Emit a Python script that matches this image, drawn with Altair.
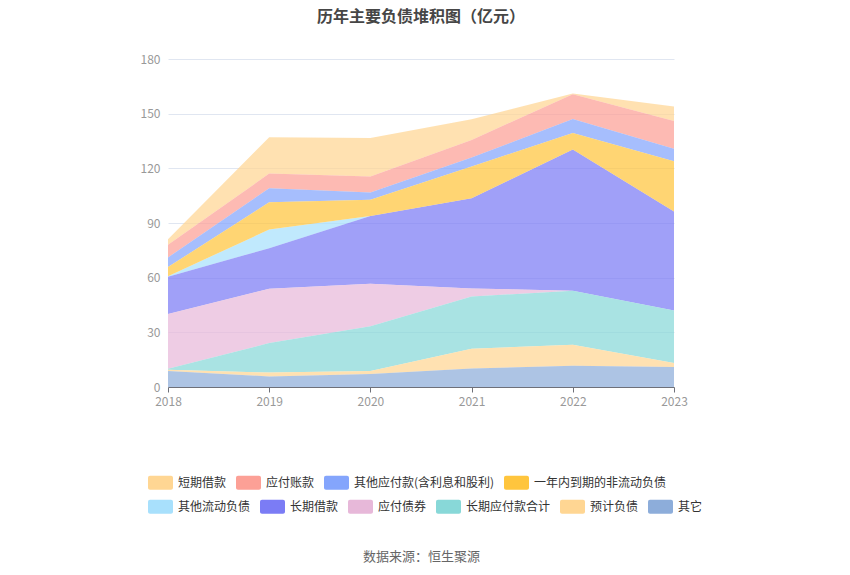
import altair as alt
import pandas as pd

years = ["2018", "2019", "2020", "2021", "2022", "2023"]

# series in legend order
names = ["短期借款", "应付账款", "其他应付款(含利息和股利)", "一年内到期的非流动负债",
         "其他流动负债", "长期借款", "应付债券", "长期应付款合计", "预计负债", "其它"]
colors = ["#FFD693", "#FCA096", "#84A5FC", "#FFC53D",
          "#A8E0FC", "#7B7CF5", "#E7B8D9", "#88D8D8", "#FFD693", "#8DADDA"]

short_loans = [3.1, 20.0, 21.2, 11.3, 0.4, 7.9]
accounts_payable = [6.9, 8.0, 8.8, 9.7, 13.5, 15.3]
other_payables = [5.3, 7.7, 4.0, 4.9, 7.7, 6.8]
current_noncurrent = [5.0, 15.0, 8.9, 17.4, 9.1, 27.6]
other_current = [0.3, 10.2, 0.0, 0.0, 0.0, 0.0]
long_loans = [20.5, 22.3, 37.1, 49.5, 77.5, 54.3]
bonds = [30.0, 29.8, 23.3, 4.4, 0.0, 0.0]
long_payables = [0.5, 16.2, 24.6, 28.7, 29.6, 28.8]
provisions = [0.7, 2.1, 1.7, 10.9, 11.5, 2.2]
others = [8.8, 5.8, 7.1, 10.1, 11.7, 11.0]

series = [short_loans, accounts_payable, other_payables, current_noncurrent,
          other_current, long_loans, bonds, long_payables, provisions, others]

rows = []
for i, (n, vals) in enumerate(zip(names, series)):
    for y, v in zip(years, vals):
        rows.append({"year": y, "series": n, "value": v, "order": len(names) - i})
df = pd.DataFrame(rows)

FONT = "Noto Sans CJK SC"
rect_path = ("M-0.84,-0.56 H0.84 A0.16,0.16 0 0 1 1,-0.4 V0.4 A0.16,0.16 0 0 1 0.84,0.56 "
             "H-0.84 A0.16,0.16 0 0 1 -1,0.4 V-0.4 A0.16,0.16 0 0 1 -0.84,-0.56 Z")

base = alt.Chart(df).transform_stack(
    stack="value", groupby=["year"], as_=["y0", "y1"], sort=[alt.SortField("order", "ascending")]
)

x_enc = alt.X("year:O", scale=alt.Scale(type="point", padding=0),
              axis=alt.Axis(title="数据来源：恒生聚源", titlePadding=143, titleFontSize=13,
                            titleColor="#666666", titleFontWeight="normal", titleFont=FONT,
                            labelAngle=0, labelColor="#999999", labelFontSize=12,
                            domainColor="#6E7079", tickColor="#6E7079", tickSize=5,
                            labelPadding=4, grid=False))
y_enc = alt.Y("y1:Q", scale=alt.Scale(domain=[0, 180]),
              axis=alt.Axis(title=None, values=[0, 30, 60, 90, 120, 150, 180],
                            labelColor="#999999", labelFontSize=12, labelPadding=8,
                            domain=False, ticks=False, gridColor="#E0E6F1"))


def layer(sub_names, sub_colors, ly):
    return base.transform_filter(
        alt.FieldOneOfPredicate(field="series", oneOf=sub_names)
    ).mark_area(opacity=0.72, interpolate="linear").encode(
        x=x_enc,
        y=y_enc,
        y2="y0:Q",
        color=alt.Color("series:N",
                        scale=alt.Scale(domain=sub_names, range=sub_colors),
                        legend=alt.Legend(title=None, orient="none", direction="horizontal",
                                          legendX=-20, legendY=ly, symbolType=rect_path,
                                          symbolSize=625, symbolOpacity=1, symbolStrokeWidth=0,
                                          labelFontSize=12, labelColor="#333333", labelFont=FONT,
                                          labelOffset=5, columnPadding=9,
                                          columns=len(sub_names))),
        detail="series:N",
        order="order:Q",
    )


top = layer(names[:4], colors[:4], 411)
bottom = layer(names[4:], colors[4:], 435)

chart = alt.layer(bottom, top).resolve_scale(color="independent").resolve_legend(
    color="independent"
).properties(
    width=506, height=328,
    title=alt.TitleParams("历年主要负债堆积图（亿元）", anchor="middle", fontSize=16,
                          fontWeight="bold", color="#464646", font=FONT, offset=28),
    autosize=alt.AutoSizeParams(type="none"),
    padding={"left": 160, "top": 51, "right": 168, "bottom": 180},
).configure(font=FONT).configure_view(strokeOpacity=0, strokeWidth=0)

chart.save("out.html", embed_options={"renderer": "svg", "actions": False})
